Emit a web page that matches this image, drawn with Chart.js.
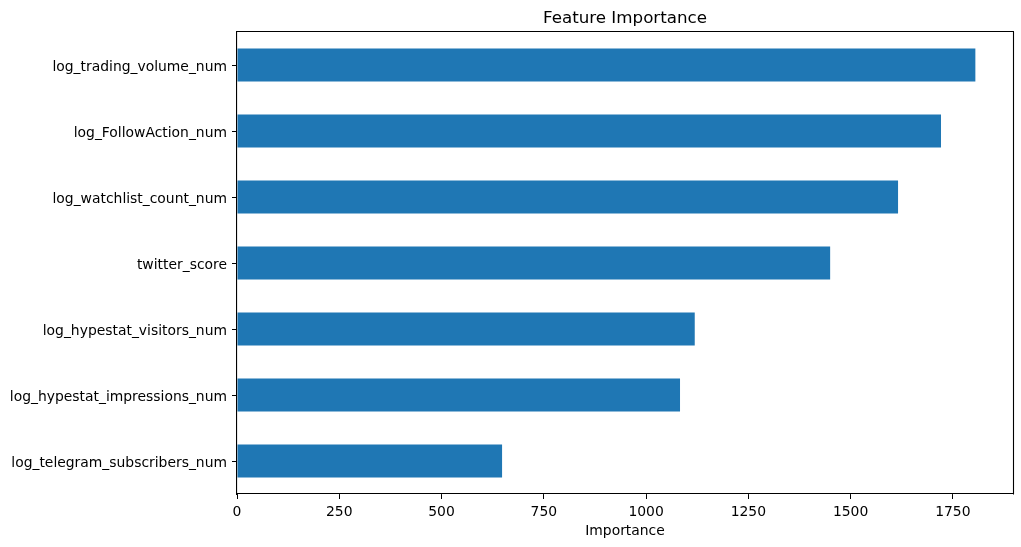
<!DOCTYPE html>
<html>
<head>
<meta charset="utf-8">
<script src="https://cdn.jsdelivr.net/npm/chart.js@4"></script>
<style>
  html, body { margin: 0; padding: 0; background: #ffffff; }
  #wrap { width: 1021px; height: 547px; position: relative; }
</style>
</head>
<body>
<div id="wrap"><canvas id="c" width="1021" height="547"></canvas></div>
<script>
const categories = [
  "log_trading_volume_num",
  "log_FollowAction_num",
  "log_watchlist_count_num",
  "twitter_score",
  "log_hypestat_visitors_num",
  "log_hypestat_impressions_num",
  "log_telegram_subscribers_num"
];
const importance = [1805, 1721, 1616, 1450, 1119, 1083, 648];
const xTicks = [0, 250, 500, 750, 1000, 1250, 1500, 1750];
const chartTitle = "Feature Importance";
const xLabel = "Importance";

const FONT = "'DejaVu Sans', sans-serif";
Chart.defaults.font.family = FONT;
Chart.defaults.color = "#000000";

const rightSpine = {
  id: "rightSpine",
  afterDraw(chart) {
    const { ctx, chartArea } = chart;
    ctx.save();
    ctx.strokeStyle = "#000";
    ctx.lineWidth = 1.1;
    ctx.beginPath();
    const x = Math.round(chartArea.right) + 0.5;
    ctx.moveTo(x, chartArea.top - 0.5);
    ctx.lineTo(x, chartArea.bottom + 0.5);
    ctx.stroke();
    ctx.restore();
  }
};

new Chart(document.getElementById("c"), {
  type: "bar",
  plugins: [rightSpine],
  data: {
    labels: categories,
    datasets: [{
      data: importance,
      backgroundColor: "#1f77b4",
      borderWidth: 0,
      barPercentage: 0.5,
      categoryPercentage: 1.0
    }]
  },
  options: {
    indexAxis: "y",
    responsive: false,
    animation: false,
    devicePixelRatio: 1,
    layout: { padding: { left: 0, right: 8, top: 0, bottom: 0 } },
    plugins: {
      legend: { display: false },
      title: { display: false },
      tooltip: { enabled: false }
    },
    scales: {
      x: {
        type: "linear",
        position: "bottom",
        min: 0,
        max: 1897,
        afterBuildTicks: (s) => { s.ticks = xTicks.map(v => ({ value: v })); },
        ticks: {
          font: { size: 13.9 }, padding: 5, color: "#000",
          callback: (v) => xTicks.includes(v) ? String(v) : ""
        },
        grid: {
          drawOnChartArea: false, drawTicks: true, tickLength: 5, color: "#000",
          tickColor: (ctx) => (ctx.tick && xTicks.includes(ctx.tick.value)) ? "#000" : "rgba(0,0,0,0)"
        },
        border: { display: true, color: "#000", width: 1.1, z: 1 },
        title: { display: true, text: xLabel, font: { size: 13.9 }, padding: { top: 0, bottom: 7 }, color: "#000" },
        afterFit: (s) => { s.height = 53; }
      },
      x2: {
        type: "linear",
        position: "top",
        min: 0,
        max: 1,
        ticks: { display: false },
        grid: { display: false, drawTicks: false },
        border: { display: true, color: "#000", width: 1.1, z: 1 },
        title: { display: true, text: chartTitle, font: { size: 16.7 }, padding: { top: 9, bottom: 0 }, color: "#000" },
        afterFit: (s) => { s.height = 32; }
      },
      y: {
        type: "category",
        position: "left",
        offset: true,
        ticks: { font: { size: 13.9 }, padding: 5, labelOffset: 2, color: "#000" },
        grid: { drawOnChartArea: false, drawTicks: true, tickLength: 5, offset: false, color: "#000", tickColor: "#000" },
        border: { display: true, color: "#000", width: 1.1, z: 1 },
        afterFit: (s) => { s.width = 237; }
      }
    }
  }
});
</script>
</body>
</html>
